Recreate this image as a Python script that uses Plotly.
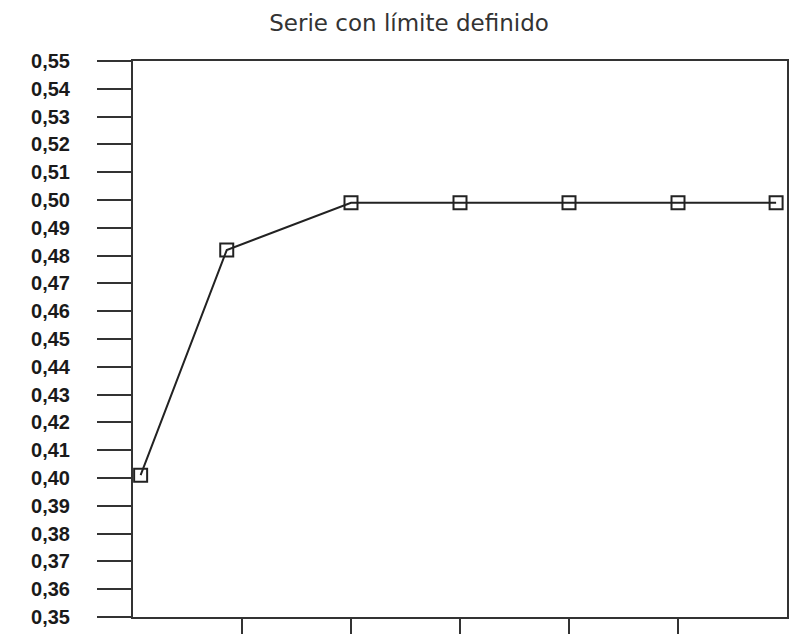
import plotly.graph_objects as go

# Data
x_pos = [1.07, 1.86, 3, 4, 5, 6, 6.9]
y_vals = [0.401, 0.482, 0.499, 0.499, 0.499, 0.499, 0.499]

y_tick_vals = [round(0.35 + 0.01 * i, 2) for i in range(21)]
y_tick_text = [f"{v:.2f}".replace(".", ",") for v in y_tick_vals]
x_tick_vals = [2, 3, 4, 5, 6]

title_text = "Serie con límite definido"

fig = go.Figure()
fig.add_trace(go.Scatter(
    x=x_pos, y=y_vals, mode="lines+markers",
    line=dict(color="#222222", width=2),
    marker=dict(symbol="square-open", size=13, color="#222222",
                line=dict(width=2, color="#222222")),
    cliponaxis=False, showlegend=False,
))

fig.update_layout(
    width=791, height=628,
    margin=dict(l=125, r=12, t=53, b=19),
    paper_bgcolor="white", plot_bgcolor="white",
    title=dict(text=title_text, x=0.507, xanchor="center",
               y=1 - 15 / 628, yanchor="middle",
               font=dict(family="Verdana, DejaVu Sans", size=23, color="#333333")),
    xaxis=dict(range=[1, 7], showgrid=False, zeroline=False, automargin=False,
               showline=True, linecolor="#333333", linewidth=2, mirror=True,
               tickmode="array", tickvals=x_tick_vals, ticktext=["" for _ in x_tick_vals],
               ticks="outside", ticklen=15, tickwidth=2, tickcolor="#333333"),
    yaxis=dict(range=[0.35, 0.55], showgrid=False, zeroline=False, automargin=False,
               showline=True, linecolor="#333333", linewidth=2, mirror=True,
               tickmode="array", tickvals=y_tick_vals, ticktext=y_tick_text,
               ticks="outside", ticklen=34, tickwidth=2, tickcolor="#333333",
               ticklabelstandoff=23,
               tickfont=dict(family="Liberation Sans, Arial",
                             size=20, color="#1a1a1a", weight="bold")),
)

fig.write_html("out.html")
